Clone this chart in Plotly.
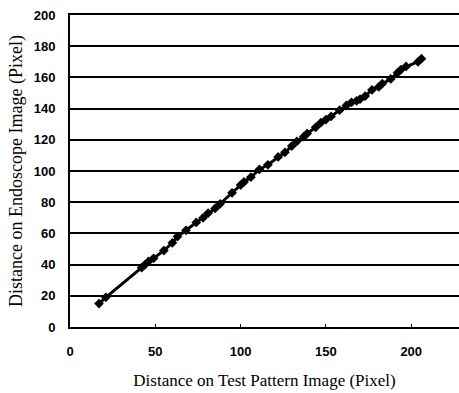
import plotly.graph_objects as go

test_px = [17, 21, 42, 44, 46, 49, 55, 60, 63, 68, 74, 78, 81, 85, 88, 95, 100, 102, 106, 111,
           116, 122, 126, 130, 133, 137, 139, 144, 147, 150, 153, 158, 162, 165, 168, 170, 173,
           177, 181, 183, 188, 192, 194, 197, 204, 206]
endo_px = [15, 19, 38, 40, 42, 44, 49, 54, 58, 62, 67, 70, 73, 76, 79, 86, 91, 93, 96, 101,
           104, 109, 112, 116, 119, 122, 124, 128, 131, 133, 135, 139, 142, 144, 145, 146, 148,
           152, 154, 156, 159, 163, 165, 167, 170, 172]
x_ticks = [0, 50, 100, 150, 200]
y_ticks = [0, 20, 40, 60, 80, 100, 120, 140, 160, 180, 200]

fig = go.Figure()
fig.add_trace(go.Scatter(
    x=test_px, y=endo_px, mode="lines+markers",
    line=dict(color="black", width=3),
    marker=dict(symbol="diamond", size=7.5, color="black"),
    showlegend=False,
))

fig.update_layout(
    width=459, height=393,
    margin=dict(l=70, r=0, t=15, b=66),
    paper_bgcolor="white", plot_bgcolor="white",
    font=dict(family="Liberation Sans, Arial", color="black"),
)
fig.update_xaxes(
    range=[0, 228], tickvals=x_ticks, showgrid=False, zeroline=False,
    showline=True, linecolor="black", linewidth=2, mirror=True,
    ticks="inside", ticklen=3, tickcolor="black",
    tickfont=dict(family="Liberation Sans, Arial", size=13, weight="bold"),
    ticklabelstandoff=11,
    title=dict(text="Distance on Test Pattern Image (Pixel)",
               font=dict(family="Liberation Serif, Times New Roman", size=17), standoff=17),
)
fig.update_yaxes(
    range=[0, 200], tickvals=y_ticks, showgrid=True, gridcolor="black", gridwidth=1.5,
    zeroline=False, showline=True, linecolor="black", linewidth=2,
    ticks="", tickfont=dict(family="Liberation Sans, Arial", size=13, weight="bold"),
    ticklabelstandoff=10,
    title=dict(text="Distance on Endoscope Image (Pixel)",
               font=dict(family="Liberation Serif, Times New Roman", size=18), standoff=6),
)
fig.write_html("out.html")
